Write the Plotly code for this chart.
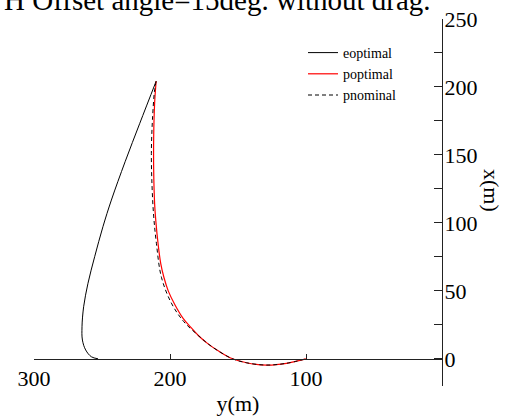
import plotly.graph_objects as go

# trajectories: horizontal = y(m), vertical = x(m)
eopt_y = [210.2, 222.2, 233.0, 243.1, 249.3, 255.4, 260.3, 263.5, 264.7, 264.4, 262.0, 257.8, 252.9]
eopt_x = [204.2, 173.3, 145.0, 116.8, 97.2, 75.1, 55.6, 38.3, 23.6, 13.8, 6.5, 1.5, 0.0]

popt_y = [210.2, 211.3, 212.0, 212.0, 211.3, 210.3, 208.8, 206.8, 204.5, 201.3, 196.5, 190.5, 185.0, 179.0, 172.0, 164.0, 154.0, 143.8, 129.0, 114.4, 100.0]
popt_x = [204.2, 188.0, 163.0, 139.0, 114.0, 100.0, 85.0, 70.0, 60.0, 50.0, 40.0, 30.0, 23.5, 17.0, 11.0, 5.5, 0.0, -2.9, -4.6, -3.3, 0.0]

pnom_y = [210.2, 211.3, 212.9, 213.7, 213.2, 212.0, 210.0, 206.3, 199.0, 190.0, 179.0, 172.0, 164.0, 154.0, 143.8, 129.0, 114.4, 100.0]
pnom_x = [204.2, 198.0, 176.0, 151.0, 127.0, 105.0, 85.0, 60.0, 41.0, 27.5, 17.0, 11.0, 5.5, 0.0, -2.9, -4.6, -3.3, 0.0]

x_ticks = [300, 200, 100]
title_text = "H Offset angle=15deg. without drag."

FONT = "Liberation Serif"

fig = go.Figure()
fig.add_trace(go.Scatter(x=eopt_y, y=eopt_x, mode="lines", name="eoptimal",
                         line=dict(color="black", width=1, shape="spline")))
fig.add_trace(go.Scatter(x=popt_y, y=popt_x, mode="lines", name="poptimal",
                         line=dict(color="red", width=1.2, shape="spline")))
fig.add_trace(go.Scatter(x=pnom_y, y=pnom_x, mode="lines", name="pnominal",
                         line=dict(color="black", width=1, dash="4px,3px", shape="spline")))

W, H = 512, 416
ml, mr, mt, mb = 34, 70, 19, 30
pw, ph = W - ml - mr, H - mt - mb
ymin, ymax = -20, 250

fig.update_layout(
    width=W, height=H,
    margin=dict(l=ml, r=mr, t=mt, b=mb, autoexpand=False),
    paper_bgcolor="white", plot_bgcolor="white",
    font=dict(family=FONT, color="black", size=22),
    showlegend=True,
    legend=dict(x=(303 - ml) / pw, y=1 - (37 - mt) / ph, xanchor="left", yanchor="top",
                font=dict(family=FONT, size=14), bgcolor="rgba(0,0,0,0)",
                tracegroupgap=0, itemwidth=30),
    xaxis=dict(range=[300, 0], tickvals=x_ticks, ticks="inside", ticklen=5,
               tickcolor="#222", showline=True, linecolor="#222", linewidth=1,
               showgrid=False, zeroline=False, anchor="free",
               position=(0 - ymin) / (ymax - ymin),
               title=dict(text="y(m)", font=dict(size=22), standoff=5),
               tickfont=dict(size=22)),
    yaxis=dict(range=[ymin, ymax], dtick=50, side="right", ticks="inside", ticklen=8,
               tickcolor="#222", showline=True, linecolor="#222", linewidth=1,
               showgrid=False, zeroline=False, ticklabelstandoff=-3,
               minor=dict(dtick=25, ticks="inside", ticklen=8, tickcolor="#222"),
               tickfont=dict(size=22)),
)

fig.add_annotation(text="x(m)", xref="paper", yref="paper",
                   x=(492 - ml) / pw, y=1 - (190 - mt) / ph, textangle=90,
                   showarrow=False, font=dict(family=FONT, size=22),
                   xanchor="center", yanchor="middle")
fig.add_annotation(text=title_text, xref="paper", yref="paper",
                   x=(433 - ml) / pw, y=1 + (mt - 0) / ph, xanchor="right", yanchor="middle",
                   showarrow=False, font=dict(family=FONT, size=29))

fig.write_html("out.html")
